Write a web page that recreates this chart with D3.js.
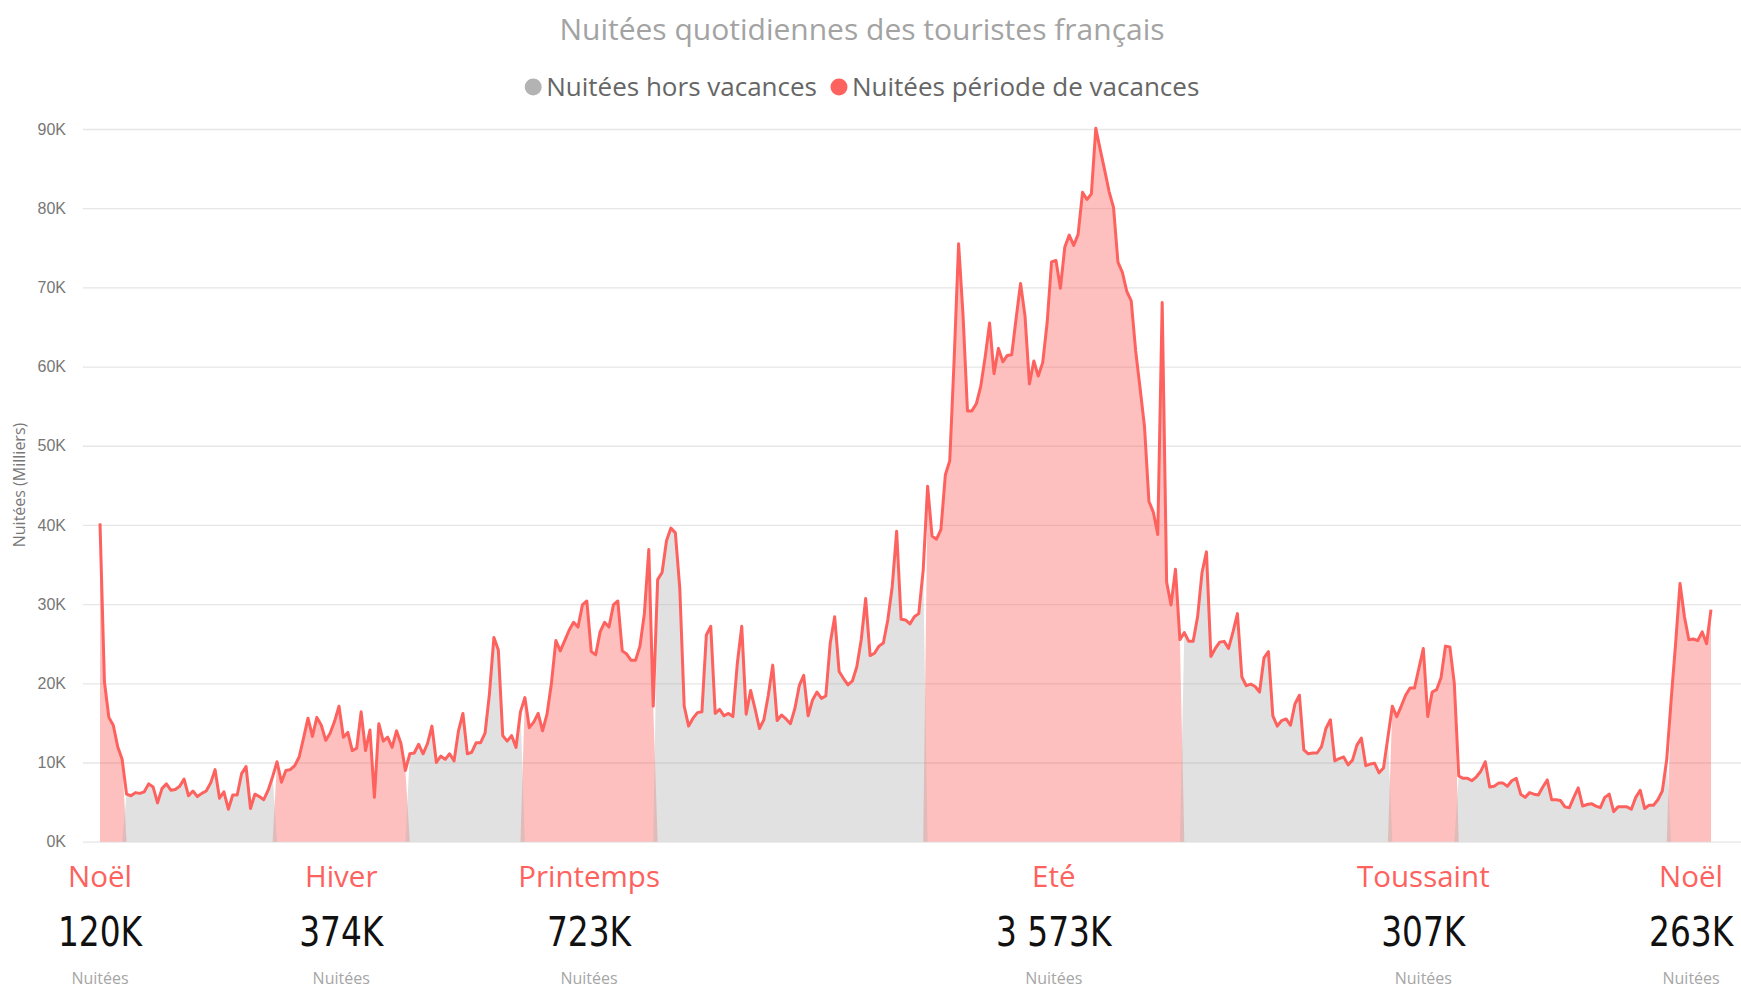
<!DOCTYPE html>
<html lang="fr">
<head>
<meta charset="UTF-8" />
<title>Nuitées quotidiennes des touristes français</title>
<script src="https://d3js.org/d3.v7.min.js"></script>
<style>
  body { margin: 0; background: #fff; }
  svg { display: block; font-family: "Open Sans", "Noto Sans", sans-serif; }
  .grid line { stroke: #e6e6e6; stroke-width: 1.3; }
  .grid text { fill: #777; font-size: 16px; }
</style>
</head>
<body>
<svg id="chart" width="1741" height="995"></svg>
<script>
// nuitées par jour (milliers), du 1er janvier au 31 décembre
const nuitees = [
  40.2, 20.2, 15.7, 14.7, 12.0, 10.4, 6.0, 5.8, 6.2, 6.1,
  6.3, 7.3, 6.9, 4.9, 6.7, 7.3, 6.5, 6.6, 7.0, 7.9,
  5.8, 6.4, 5.7, 6.1, 6.4, 7.4, 9.1, 5.5, 6.3, 4.1,
  5.9, 5.9, 8.6, 9.5, 4.2, 6.0, 5.7, 5.3, 6.5, 8.2,
  10.1, 7.5, 9.0, 9.1, 9.6, 10.7, 13.1, 15.6, 13.3, 15.7,
  14.7, 12.8, 13.7, 15.2, 17.1, 13.2, 13.8, 11.5, 11.8, 16.4,
  11.5, 14.1, 5.6, 14.9, 12.7, 13.2, 11.9, 14.0, 12.4, 9.0,
  11.1, 11.2, 12.3, 11.1, 12.4, 14.6, 10.0, 10.8, 10.4, 11.1,
  10.2, 14.0, 16.2, 11.1, 11.3, 12.5, 12.5, 13.7, 18.7, 25.8,
  24.2, 13.4, 12.7, 13.4, 11.9, 16.4, 18.2, 14.4, 15.1, 16.2,
  14.0, 16.1, 20.0, 25.4, 24.1, 25.4, 26.7, 27.7, 27.1, 29.9,
  30.4, 24.0, 23.6, 26.5, 27.7, 27.1, 29.9, 30.4, 24.1, 23.7,
  22.9, 22.9, 24.7, 28.8, 36.9, 17.1, 33.1, 34.0, 38.0, 39.6,
  39.0, 32.0, 17.1, 14.6, 15.6, 16.3, 16.4, 26.1, 27.2, 16.2,
  16.7, 15.9, 16.2, 15.8, 22.5, 27.2, 16.1, 19.1, 16.8, 14.3,
  15.4, 18.5, 22.3, 15.3, 16.0, 15.5, 14.9, 16.8, 19.7, 21.0,
  15.9, 17.9, 18.9, 18.1, 18.4, 25.1, 28.4, 21.5, 20.6, 19.8,
  20.3, 22.1, 25.5, 30.7, 23.5, 23.8, 24.7, 25.1, 28.0, 32.2,
  39.2, 28.1, 28.0, 27.5, 28.4, 28.8, 34.3, 44.9, 38.6, 38.2,
  39.4, 46.3, 48.1, 61.0, 75.5, 66.5, 54.4, 54.4, 55.3, 57.5,
  61.2, 65.5, 59.1, 62.3, 60.6, 61.4, 61.5, 66.1, 70.5, 66.4,
  57.8, 60.7, 58.8, 60.5, 65.5, 73.2, 73.4, 69.9, 75.1, 76.6,
  75.3, 76.7, 82.0, 81.1, 81.8, 90.1, 87.4, 84.8, 82.1, 80.1,
  73.2, 71.9, 69.5, 68.3, 62.0, 57.3, 52.4, 43.0, 41.6, 38.8,
  68.1, 32.8, 29.9, 34.4, 25.5, 26.4, 25.3, 25.3, 28.4, 34.0,
  36.6, 23.4, 24.4, 25.2, 25.3, 24.4, 26.5, 28.8, 20.8, 19.7,
  19.9, 19.6, 18.9, 23.2, 24.0, 15.9, 14.6, 15.3, 15.5, 14.7,
  17.4, 18.5, 11.6, 11.1, 11.2, 11.2, 12.0, 14.3, 15.4, 10.2,
  10.5, 10.7, 9.7, 10.3, 12.2, 13.1, 9.6, 9.8, 9.9, 8.7,
  9.3, 13.2, 17.1, 15.8, 17.1, 18.5, 19.4, 19.4, 21.9, 24.4,
  15.8, 18.9, 19.2, 20.7, 24.7, 24.6, 20.0, 8.3, 8.0, 8.0,
  7.7, 8.2, 8.9, 10.1, 6.9, 7.0, 7.4, 7.4, 7.0, 7.7,
  8.0, 6.0, 5.6, 6.2, 6.0, 5.9, 6.9, 7.8, 5.3, 5.3,
  5.2, 4.4, 4.3, 5.6, 6.8, 4.5, 4.7, 4.8, 4.5, 4.3,
  5.6, 6.0, 3.8, 4.4, 4.4, 4.4, 4.1, 5.6, 6.5, 4.2,
  4.6, 4.6, 5.3, 6.4, 10.4, 17.9, 25.0, 32.6, 28.4, 25.5,
  25.6, 25.4, 26.5, 25.0, 29.3
];

// périodes de vacances (index du jour de début / fin) et totaux affichés (milliers)
const periodNames = ['Noël', 'Hiver', 'Printemps', 'Eté', 'Toussaint', 'Noël'];
const periodStart = [0, 40, 96, 187, 292, 355];
const periodEnd = [5, 69, 125, 244, 306, 364];
const periodTotals = [120, 374, 723, 3573, 307, 263];

const yTicks = [0, 10, 20, 30, 40, 50, 60, 70, 80, 90];
const seriesNames = ['Nuitées hors vacances', 'Nuitées période de vacances'];
const seriesColors = ['#b3b3b3', '#fd625e'];

const W = 1741, H = 995;
const svg = d3.select('#chart');

const x = d3.scaleLinear().domain([0, nuitees.length - 1]).range([100, 1711]);
const y = d3.scaleLinear().domain([0, 90]).range([841.7, 129]);

const inVac = i => periodStart.some((s, k) => i >= s && i <= periodEnd[k]);

// grille + axe Y
const gridLeft = 83;
svg.append('g')
  .attr('class', 'grid')
  .attr('transform', `translate(${gridLeft},0)`)
  .call(d3.axisLeft(y).tickValues(yTicks).tickFormat(d => d + 'K')
    .tickSize(-(W - gridLeft)).tickPadding(17))
  .call(g => g.select('.domain').remove());

svg.append('text')
  .attr('transform', 'translate(25,485) rotate(-90)')
  .attr('text-anchor', 'middle')
  .attr('fill', '#777')
  .style('font-size', '16px')
  .text('Nuitées (Milliers)');

// aires
const area = d3.area()
  .x((d, i) => x(i))
  .y0(y(0))
  .y1(d => y(d));

svg.append('path')
  .datum(nuitees.map((v, i) => inVac(i) ? v : 0))
  .attr('d', area)
  .attr('fill', seriesColors[1])
  .attr('fill-opacity', 0.4);

svg.append('path')
  .datum(nuitees.map((v, i) => inVac(i) ? 0 : v))
  .attr('d', area)
  .attr('fill', seriesColors[0])
  .attr('fill-opacity', 0.4);

// courbe
svg.append('path')
  .datum(nuitees)
  .attr('d', d3.line().x((d, i) => x(i)).y(d => y(d)))
  .attr('fill', 'none')
  .attr('stroke', seriesColors[1])
  .attr('stroke-width', 3)
  .attr('stroke-linejoin', 'round');

// titre
const centerX = 862;
svg.append('text')
  .attr('x', centerX)
  .attr('y', 40)
  .attr('text-anchor', 'middle')
  .attr('fill', '#a3a3a3')
  .style('font-size', '30px')
  .text('Nuitées quotidiennes des touristes français');

// légende
const legend = svg.append('g');
let lx = 0;
seriesNames.forEach((name, i) => {
  const item = legend.append('g').attr('transform', `translate(${lx},0)`);
  item.append('circle').attr('cx', 0).attr('cy', -9).attr('r', 8.5).attr('fill', seriesColors[i]);
  const t = item.append('text')
    .attr('x', 13)
    .attr('y', 0)
    .attr('fill', '#666')
    .style('font-size', '26px')
    .text(name);
  lx += 13 + t.node().getComputedTextLength() + 22;
});
const legendW = lx - 22 + 8.5;
legend.attr('transform', `translate(${centerX - legendW / 2 + 8.5},96)`);

// totaux par période
const fmt = d3.formatLocale({ decimal: ',', thousands: ' ', grouping: [3], currency: ['', '€'] }).format(',');
periodNames.forEach((name, k) => {
  let cx = (x(periodStart[k]) + x(periodEnd[k])) / 2;
  if (periodStart[k] === 0) cx = x(0);
  const g = svg.append('g');
  g.append('text')
    .attr('y', 887)
    .attr('text-anchor', 'middle')
    .attr('fill', '#fd625e')
    .style('font-size', '29.5px')
    .text(name);
  g.append('text')
    .attr('y', 946)
    .attr('text-anchor', 'middle')
    .attr('transform', 'scale(0.89,1)')
    .attr('fill', '#111')
    .style('font-family', '"Liberation Sans Narrow", "DejaVu Sans Condensed", sans-serif')
    .style('font-size', '41px')
    .text(fmt(periodTotals[k]) + 'K');
  g.append('text')
    .attr('y', 983.5)
    .attr('text-anchor', 'middle')
    .attr('fill', '#a6a6a6')
    .style('font-size', '16px')
    .text('Nuitées');
  const bb = g.node().getBBox();
  if (cx + bb.width / 2 > W - 2) cx = W - 2 - bb.width / 2;
  g.attr('transform', `translate(${cx},0)`);
});
</script>
</body>
</html>
